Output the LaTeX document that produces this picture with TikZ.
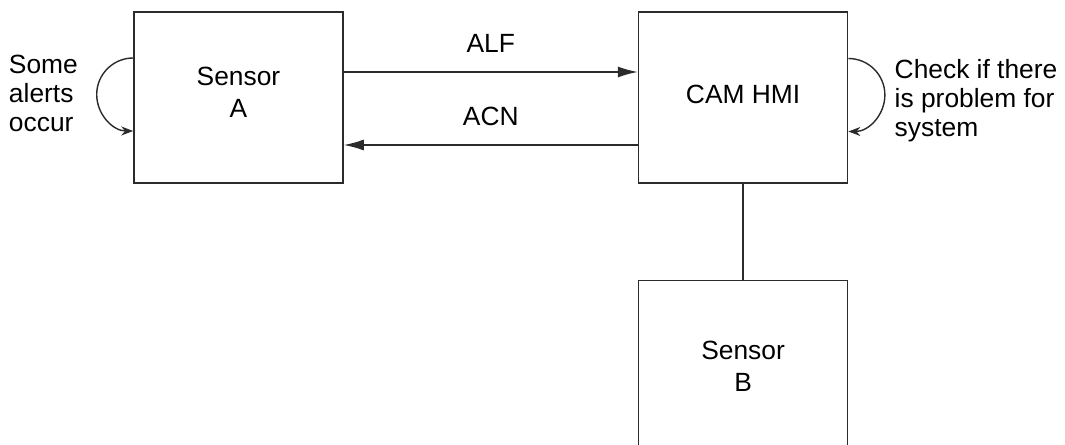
\documentclass[tikz,border=0pt]{standalone}
\usepackage{fontspec}
\setmainfont{Liberation Sans}
\definecolor{inkgray}{HTML}{2B2B2B}
\usetikzlibrary{arrows.meta,positioning,calc}

\begin{document}
\begin{tikzpicture}[
    node distance=5.88cm,
    box/.style={rectangle, draw=inkgray, line width=0.9pt, text=black,
                minimum width=4.18cm, minimum height=3.42cm, align=center,
                font=\fontsize{15}{18}\selectfont},
    note/.style={inner sep=0pt, align=left, text=black, font=\fontsize{15}{16.5}\selectfont},
    msg/.style={line width=0.8pt, draw=inkgray, -{Latex[length=4mm,width=2.2mm]}},
    selfloop/.style={line width=0.8pt, draw=inkgray, -{Stealth[length=2.4mm,width=1.8mm]}}
]
    \useasboundingbox (0,0) rectangle (21.3,-8.9);

    \node[box, text depth=0.22cm] (sensorA) at (4.77,-1.95) {Sensor\\A};
    \node[box, text depth=0.14cm, right=of sensorA] (cam) {CAM HMI};
    \node[box, below=1.92cm of cam] (sensorB) {Sensor\\B};

    \coordinate (alfS) at ($(sensorA.east)+(0,0.51)$);
    \coordinate (acnS) at ($(sensorA.east)+(0,-0.95)$);
    \draw[msg] (alfS) -- (alfS -| cam.west)
        node[note, midway, above=0.38cm] {ALF};
    \draw[msg] (acnS -| cam.west) -- (acnS)
        node[note, midway, above=0.38cm] {ACN};
    \draw[line width=0.8pt, draw=inkgray] (cam.south) -- (sensorB.north);

    \draw[selfloop] ($(sensorA.west)+(0,0.79)$) arc[start angle=90, end angle=270, radius=0.73cm];
    \draw[selfloop] ($(cam.east)+(0,0.78)$) arc[start angle=90, end angle=-90, radius=0.73cm];

    \node[note, left=1.1cm of sensorA.west, yshift=0.08cm] (alerts) {Some\\alerts\\occur};
    \node[note, right=0.92cm of cam.east, yshift=-0.06cm] (check) {Check if there\\is problem for\\system};
\end{tikzpicture}
\end{document}
